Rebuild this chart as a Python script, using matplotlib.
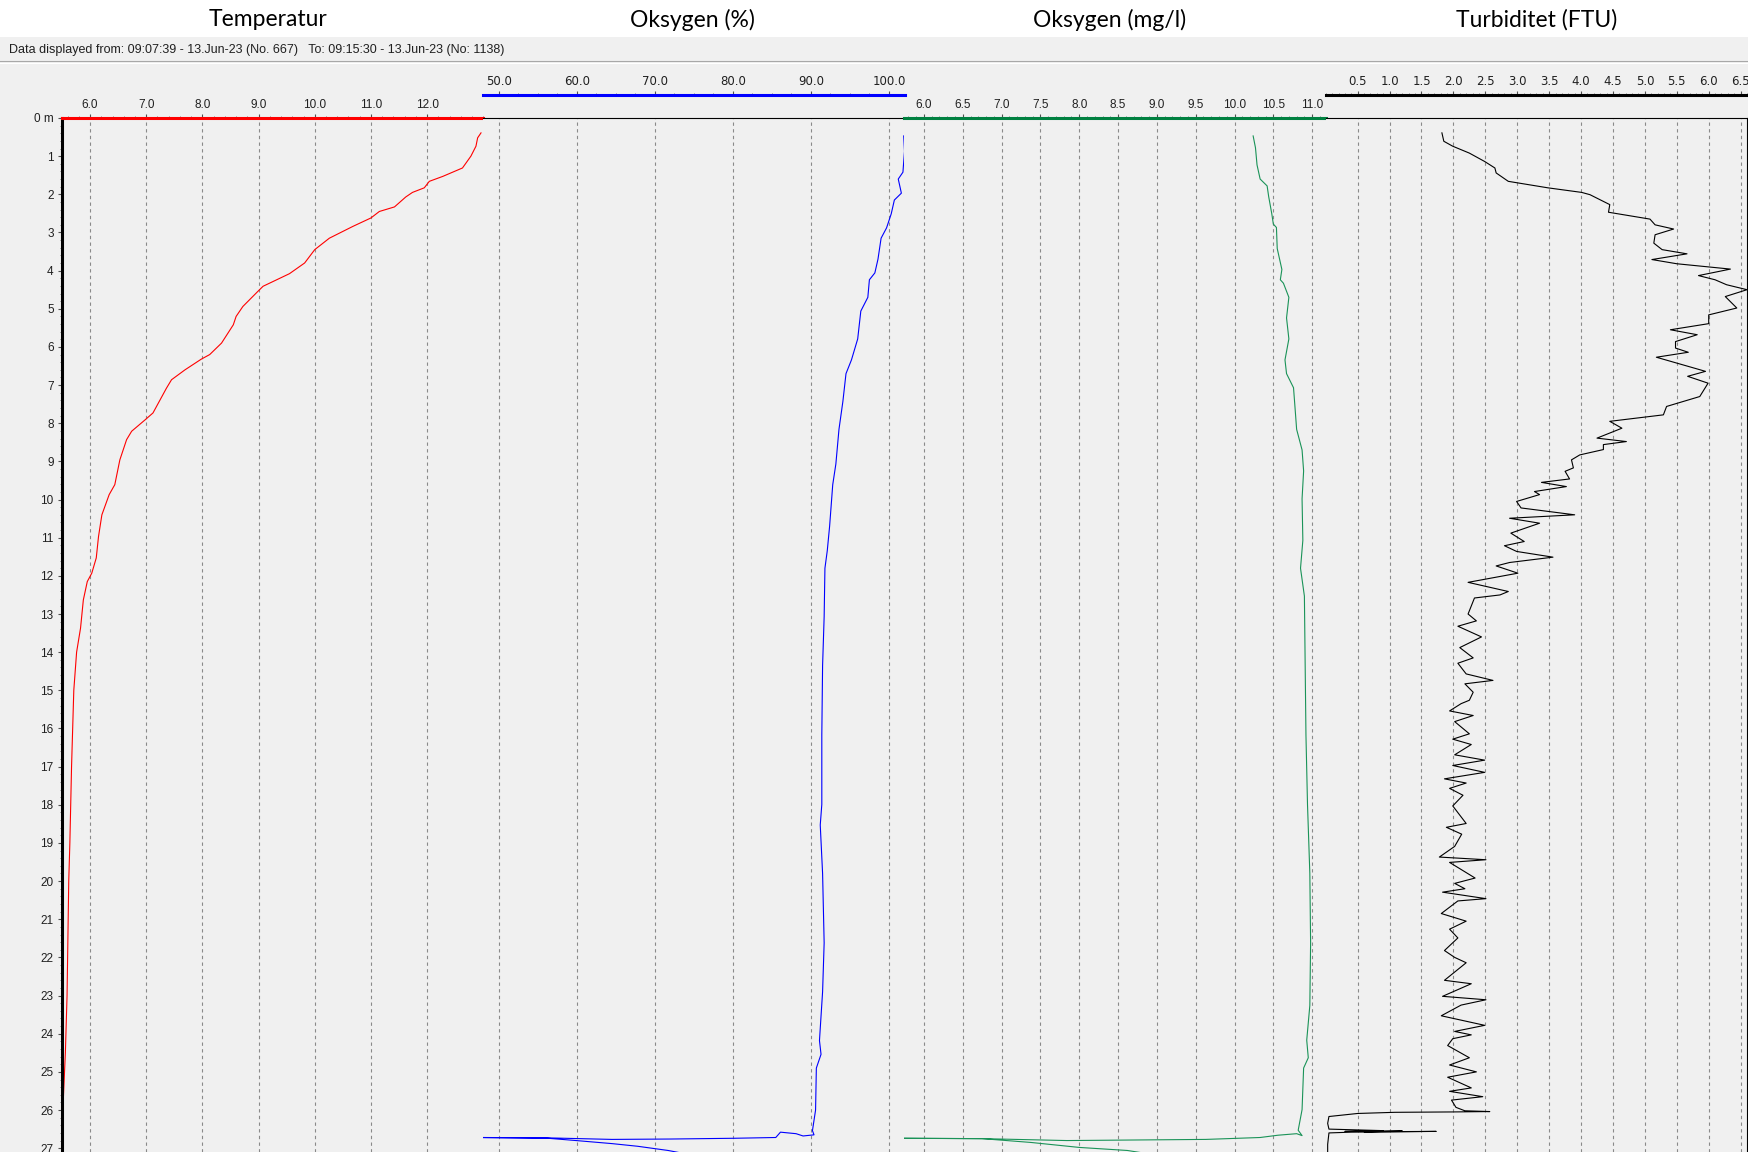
import matplotlib
matplotlib.use('Agg')
import matplotlib.pyplot as plt
import numpy as np
from matplotlib.ticker import MultipleLocator, FixedLocator, FormatStrFormatter, FuncFormatter
from matplotlib.lines import Line2D
from matplotlib.patches import Rectangle

# Profile data (depth in m)
temp_depth = [0.39, 0.52, 0.74, 1.0, 1.31, 1.53, 1.66, 1.83, 1.95, 2.07, 2.33, 2.45, 2.62, 2.84, 3.15,
              3.45, 3.8, 4.08, 4.41, 4.54, 4.94, 5.2, 5.42, 5.9, 6.2, 6.32, 6.6, 6.86, 7.08, 7.73, 7.91,
              8.21, 8.43, 8.96, 9.61, 9.87, 10.4, 10.97, 11.53, 11.93, 12.15, 12.63, 13.37, 14.0, 15.0,
              17.0, 19.0, 20.0, 21.0, 23.0, 24.5, 25.5, 26.2, 26.7, 27.2]
temp_val = [12.96, 12.9, 12.87, 12.78, 12.63, 12.28, 12.04, 11.95, 11.74, 11.62, 11.42, 11.15, 11.0, 10.68,
            10.26, 10.0, 9.82, 9.55, 9.08, 8.99, 8.72, 8.6, 8.55, 8.34, 8.13, 7.98, 7.69, 7.45, 7.36, 7.12,
            6.98, 6.74, 6.65, 6.53, 6.44, 6.34, 6.21, 6.15, 6.11, 6.03, 5.95, 5.88, 5.83, 5.76, 5.71,
            5.67, 5.64, 5.62, 5.61, 5.59, 5.56, 5.53, 5.51, 5.5, 5.5]

o2p_depth = [0.47, 0.87, 1.42, 1.6, 1.97, 2.15, 2.51, 2.88, 3.15, 3.7, 4.06, 4.24, 4.7, 5.06, 5.79, 6.34,
             6.7, 7.43, 8.16, 9.07, 9.61, 10.7, 11.34, 11.8, 13.07, 14.35, 16.17, 17.99, 18.53, 19.8,
             21.62, 22.9, 24.18, 24.54, 24.9, 26.0, 26.54, 26.65, 26.68, 26.62, 26.58, 26.72, 26.74,
             26.76, 26.77, 26.73, 26.72, 26.72, 26.74, 26.8, 26.88, 26.95, 27.06, 27.15]
o2p_val = [101.9, 102.0, 101.8, 101.2, 101.6, 100.7, 100.3, 99.7, 99.0, 98.6, 98.2, 97.5, 97.3, 96.4, 96.0,
           95.2, 94.5, 94.1, 93.6, 93.2, 92.8, 92.4, 92.1, 91.8, 91.7, 91.5, 91.4, 91.4, 91.2, 91.5,
           91.7, 91.5, 91.1, 91.3, 90.7, 90.6, 90.2, 90.4, 89.0, 88.1, 86.1, 85.5, 80.2,
           72.0, 64.5, 56.3, 48.0, 47.0, 56.3, 59.9, 64.5, 67.8, 71.7, 74.0]

o2m_depth = [0.47, 0.78, 1.23, 1.6, 1.78, 2.06, 2.51, 2.78, 2.87, 3.42, 3.97, 4.24, 4.33, 4.7, 5.24, 5.79,
             6.34, 6.7, 7.07, 7.61, 8.16, 8.7, 9.25, 9.98, 11.07, 11.8, 12.53, 14.35, 16.17, 17.99, 19.8,
             21.62, 23.26, 24.17, 24.63, 24.9, 25.99, 26.53, 26.67, 26.62, 26.66, 26.72, 26.77, 26.8,
             26.75, 26.74, 26.74, 26.75, 26.85, 26.98, 27.06, 27.15]
o2m_val = [10.24, 10.27, 10.29, 10.33, 10.42, 10.44, 10.48, 10.5, 10.54, 10.55, 10.61, 10.59, 10.63, 10.7,
           10.67, 10.7, 10.65, 10.67, 10.76, 10.78, 10.8, 10.87, 10.89, 10.87, 10.88, 10.85, 10.9, 10.91,
           10.92, 10.94, 10.97, 10.98, 10.97, 10.93, 10.95, 10.89, 10.87, 10.82, 10.87, 10.8, 10.56,
           10.33, 9.63, 7.84, 6.75, 5.77, 5.6, 6.75, 7.38, 8.0, 8.62, 8.9]

turb_depth = [0.39, 0.61, 0.74, 0.92, 1.14, 1.31, 1.44, 1.66, 1.83, 1.95, 2.01, 2.27, 2.47, 2.65, 2.8, 2.91,
              3.06, 3.28, 3.45, 3.56, 3.71, 3.82, 3.96, 4.13, 4.24, 4.37, 4.5, 4.68, 4.98, 5.16, 5.39,
              5.55, 5.68, 5.86, 6.03, 6.14, 6.27, 6.64, 6.77, 6.95, 7.3, 7.56, 7.78, 7.95, 8.13, 8.39,
              8.48, 8.56, 8.69, 8.83, 8.96, 9.17, 9.26, 9.46, 9.55, 9.66, 9.79, 9.87, 10.05, 10.22, 10.4,
              10.49, 10.62, 10.88, 11.1, 11.21, 11.36, 11.51, 11.65, 11.74, 11.93, 12.17, 12.41, 12.5,
              12.58, 13.0, 13.18, 13.32, 13.6, 13.88, 14.15, 14.29, 14.57, 14.74, 14.83, 15.05, 15.26,
              15.35, 15.54, 15.66, 15.82, 16.14, 16.28, 16.42, 16.69, 16.83, 16.97, 17.15, 17.32, 17.43,
              17.57, 17.75, 18.03, 18.49, 18.59, 18.77, 19.09, 19.37, 19.44, 19.51, 19.92, 20.06, 20.2,
              20.29, 20.46, 20.52, 20.85, 21.05, 21.26, 21.49, 21.82, 22.0, 22.14, 22.6, 22.69, 23.02,
              23.11, 23.25, 23.53, 23.78, 23.94, 24.03, 24.13, 24.31, 24.63, 24.82, 25.0, 25.14, 25.42,
              25.51, 25.65, 25.74, 25.93, 26.02, 26.04, 26.05, 26.06, 26.09, 26.17, 26.35, 26.5, 26.54,
              26.56, 26.55, 26.57, 26.56, 26.58, 26.6, 26.9, 27.2]
turb_val = [1.82, 1.85, 1.99, 2.25, 2.49, 2.65, 2.67, 2.86, 3.48, 4.01, 4.14, 4.45, 4.43, 5.08, 5.16, 5.45,
            5.16, 5.14, 5.27, 5.66, 5.11, 5.5, 6.34, 5.84, 6.1, 6.28, 6.6, 6.26, 6.44, 6.0, 6.0,
            5.4, 5.82, 5.48, 5.48, 5.68, 5.18, 5.95, 5.67, 5.99, 5.86, 5.34, 5.29, 4.45, 4.64, 4.25,
            4.71, 4.35, 4.35, 3.98, 3.85, 3.88, 3.75, 3.82, 3.38, 3.77, 3.27, 3.35, 2.99, 3.06, 3.9,
            2.88, 3.35, 2.9, 3.11, 2.8, 2.99, 3.56, 2.88, 2.67, 3.01, 2.23, 2.86, 2.73,
            2.33, 2.23, 2.36, 2.07, 2.44, 2.1, 2.31, 2.07, 2.2, 2.62, 2.18, 2.31, 2.25,
            2.12, 1.94, 2.31, 2.02, 2.25, 1.99, 2.28, 2.02, 2.49, 1.99, 2.49, 1.86, 2.2,
            1.94, 2.15, 1.99, 2.2, 1.89, 2.13, 2.02, 1.78, 2.51, 1.94, 2.34, 2.02, 2.18,
            1.83, 2.51, 2.07, 1.81, 2.2, 1.94, 2.07, 1.86, 2.02, 2.2, 1.86, 2.28, 1.83,
            2.51, 2.12, 1.81, 2.49, 2.02, 2.28, 1.99, 1.91, 2.25, 1.94, 2.36, 1.91, 2.28,
            1.94, 2.46, 1.97, 2.04, 2.18, 2.57, 1.99, 1.08, 0.5, 0.05, 0.03, 0.05, 0.9,
            0.3, 1.2, 0.6, 1.73, 0.4, 0.05, 0.03, 0.03]

titles = ['Temperatur', 'Oksygen (%)', 'Oksygen (mg/l)', 'Turbiditet (FTU)']
header = 'Data displayed from: 09:07:39 - 13.Jun-23 (No. 667)   To: 09:15:30 - 13.Jun-23 (No: 1138)'

W, H = 1749, 1152
bg = '#f0f0f0'
fig = plt.figure(figsize=(W / 100, H / 100), dpi=100, facecolor=bg)

# white title band + separator
fig.patches.append(Rectangle((0, 1 - 37 / H), 1, 37 / H, transform=fig.transFigure,
                             facecolor='white', edgecolor='none', zorder=0))
fig.lines.append(Line2D([0, 1], [1 - 61 / H] * 2, transform=fig.transFigure, color='#a8a8a8', lw=0.8))
fig.lines.append(Line2D([0, 1], [1 - 62.5 / H] * 2, transform=fig.transFigure, color='white', lw=0.8))
fig.text(9 / W, 1 - 50 / H, header, fontsize=9, family='Liberation Sans', color='#202020', va='center')

title_x = [268, 692, 1110, 1537]
for tx, t in zip(title_x, titles):
    fig.text(tx / W, 1 - 20 / H, t, fontsize=16.5, family='Lato', ha='center', va='center')

# panel geometry (pixels)
x0, pw, top = 62, 421.25, 118
ax_h = (H - top) / H
panels = [
    dict(lim=(5.5, 13.0), ticks=np.arange(6, 12.5, 1.0), minor=0.2, color='red', raised=False,
         x=temp_val, y=temp_depth, lc='#ff0000'),
    dict(lim=(48.0, 102.0), ticks=np.arange(50, 101, 10.0), minor=2.5, color='#0000ff', raised=True,
         x=o2p_val, y=o2p_depth, lc='#0000ff'),
    dict(lim=(5.75, 11.175), ticks=np.arange(6, 11.01, 0.5), minor=0.1, color='#008040', raised=False,
         x=o2m_val, y=o2m_depth, lc='#1a9358'),
    dict(lim=(0.0, 6.6), ticks=np.arange(0.5, 6.51, 0.5), minor=0.1, color='black', raised=True,
         x=turb_val, y=turb_depth, lc='black'),
]

axes = []
for i, p in enumerate(panels):
    ax = fig.add_axes([(x0 + i * pw) / W, 0, pw / W, ax_h])
    ax.set_facecolor(bg)
    ax.set_xlim(*p['lim'])
    ax.set_ylim(27.1, 0)
    ax.plot(p['x'], p['y'], color=p['lc'], lw=0.8)

    ax.xaxis.set_major_locator(FixedLocator(p['ticks']))
    ax.xaxis.set_minor_locator(MultipleLocator(p['minor']))
    ax.xaxis.set_major_formatter(FormatStrFormatter('%.1f'))
    ax.xaxis.tick_top()
    ax.tick_params(axis='x', which='major', direction='out', length=3, width=0.8, color='#505050',
                   pad=2, labelsize=8.5, labelcolor='#202020')
    ax.tick_params(axis='x', which='minor', direction='out', length=1.5, width=0.6, color='#707070')
    for lab in ax.get_xticklabels():
        lab.set_family('Liberation Sans')
    ax.grid(True, axis='x', which='major', color='#8a8a8a', linestyle=(0, (3, 3)), lw=0.8)

    for s in ['bottom', 'left', 'right']:
        ax.spines[s].set_visible(False)
    ax.spines['top'].set_color(p['color'])
    ax.spines['top'].set_linewidth(2.2)
    if p['raised']:
        ax.spines['top'].set_position(('outward', 16.5))
        ax.axhline(0, color='black', lw=0.8, clip_on=False)

    if i == 0:
        ax.spines['left'].set_visible(True)
        ax.spines['left'].set_color('black')
        ax.spines['left'].set_linewidth(2.2)
        ax.yaxis.set_major_locator(MultipleLocator(1))
        ax.yaxis.set_minor_locator(MultipleLocator(0.2))
        ax.yaxis.set_major_formatter(FuncFormatter(lambda v, pos: '0 m' if v == 0 else f'{int(round(v))}'))
        ax.tick_params(axis='y', which='major', direction='out', length=3, width=0.8, color='#505050',
                       pad=3, labelsize=8.5, labelcolor='#202020')
        ax.tick_params(axis='y', which='minor', direction='out', length=1.5, width=0.6, color='#707070')
        for lab in ax.get_yticklabels():
            lab.set_family('Liberation Sans')
    else:
        ax.tick_params(axis='y', which='both', left=False, labelleft=False)
    if i == 3:
        ax.spines['right'].set_visible(True)
        ax.spines['right'].set_color('black')
        ax.spines['right'].set_linewidth(0.8)
    axes.append(ax)

fig.savefig('out.png', dpi=100, facecolor=bg)
